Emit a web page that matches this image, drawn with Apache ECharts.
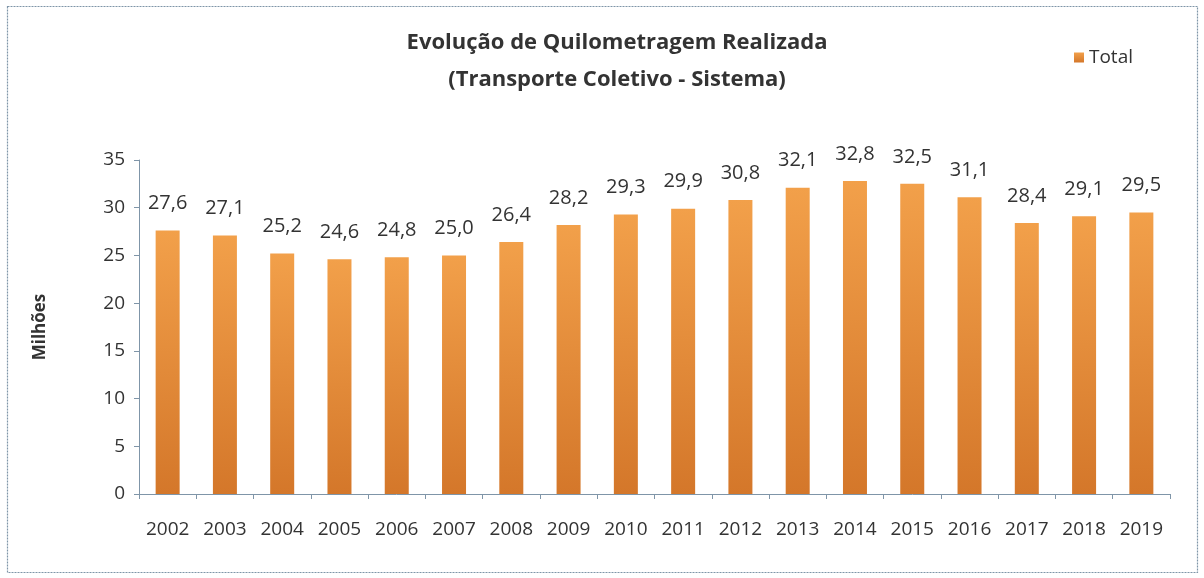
<!DOCTYPE html>
<html>
<head>
<meta charset="utf-8">
<script src="https://cdn.jsdelivr.net/npm/echarts@6/dist/echarts.min.js"></script>
<style>
  html, body { margin: 0; padding: 0; background: #fff; }
  #chart { width: 1204px; height: 578px; }
</style>
</head>
<body>
<div id="chart"></div>
<script>
const years = ["2002", "2003", "2004", "2005", "2006", "2007", "2008", "2009", "2010",
  "2011", "2012", "2013", "2014", "2015", "2016", "2017", "2018", "2019"]
const total = [27.6, 27.1, 25.2, 24.6, 24.8, 25.0, 26.4, 28.2, 29.3,
  29.9, 30.8, 32.1, 32.8, 32.5, 31.1, 28.4, 29.1, 29.5]

const font = "Open Sans"
const chart = echarts.init(document.getElementById("chart"))

chart.setOption({
  backgroundColor: "#fff",
  animation: false,
  graphic: [
    {
      type: "rect",
      shape: { x: 7.5, y: 6.5, width: 1190, height: 566 },
      style: { fill: "none", stroke: "#7f95a8", lineWidth: 1.2, lineDash: [2, 1] },
      silent: true
    }
  ],
  title: {
    text: "Evolução de Quilometragem Realizada\n(Transporte Coletivo - Sistema)",
    left: 612,
    textAlign: "center",
    top: 19,
    textStyle: {
      fontFamily: font,
      fontSize: 22,
      fontWeight: "bold",
      color: "#333",
      lineHeight: 37
    }
  },
  legend: {
    data: [{ name: "Total", icon: "rect" }],
    right: 66,
    top: 43,
    itemWidth: 10,
    itemHeight: 10,
    itemGap: 6,
    textStyle: { fontFamily: font, fontSize: 19, color: "#333" }
  },
  grid: {
    left: 139,
    right: 34,
    top: 160,
    bottom: 84
  },
  xAxis: {
    type: "category",
    data: years,
    axisLine: { lineStyle: { color: "#7f95a8", width: 1 } },
    axisTick: { show: true, alignWithLabel: false, length: 5, lineStyle: { color: "#7f95a8" } },
    axisLabel: { fontFamily: font, fontSize: 19, color: "#333", margin: 26 }
  },
  yAxis: {
    type: "value",
    min: 0,
    max: 35,
    interval: 5,
    name: "Milhões",
    nameLocation: "middle",
    nameGap: 90,
    nameRotate: 90,
    nameTextStyle: { fontFamily: font, fontSize: 17, fontWeight: "bold", color: "#333" },
    axisLine: { show: true, lineStyle: { color: "#7f95a8", width: 1 } },
    axisTick: { show: true, length: 5, lineStyle: { color: "#7f95a8" } },
    splitLine: { show: false },
    axisLabel: { fontFamily: font, fontSize: 19, color: "#333", margin: 14 }
  },
  series: [
    {
      name: "Total",
      type: "bar",
      data: total,
      barWidth: 24,
      itemStyle: {
        color: new echarts.graphic.LinearGradient(0, 0, 0, 1, [
          { offset: 0, color: "#f2a04a" },
          { offset: 1, color: "#d4772a" }
        ])
      },
      label: {
        show: true,
        position: "top",
        distance: 17,
        fontFamily: font,
        fontSize: 20,
        color: "#333",
        formatter: p => p.value.toFixed(1).replace(".", ",")
      }
    }
  ]
})

window.addEventListener("resize", () => chart.resize())
</script>
</body>
</html>
